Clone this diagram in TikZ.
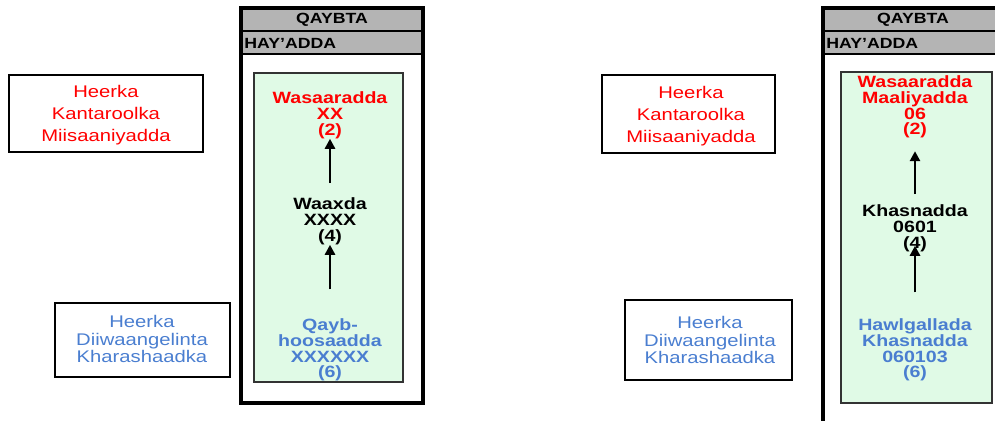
\documentclass[tikz,border=0pt]{standalone}
\usepackage{fontspec}
\setmainfont{Liberation Sans}[FakeStretch=1.2]
\usetikzlibrary{arrows.meta}

\definecolor{boxred}{RGB}{255,0,0}
\definecolor{boxblue}{RGB}{74,126,208}
\definecolor{headgray}{RGB}{180,180,180}
\definecolor{panelgreen}{RGB}{224,250,230}

\begin{document}
\begin{tikzpicture}[x=0.02cm, y=-0.02cm,
		lvl/.style={align=center, inner sep=0pt, font=\fontsize{9.3}{9}\selectfont\bfseries},
		side/.style={align=center, inner sep=0pt, font=\fontsize{9.6}{#1}\selectfont},
		head/.style={inner sep=0pt, font=\fontsize{8.4}{9}\selectfont\bfseries},
		arr/.style={line width=1.7pt, -{Triangle[length=0.2cm, width=0.2cm]}}]
			\useasboundingbox (0, 0) rectangle (995, 421);
			\clip (0, 0) rectangle (995, 421);

			% side boxes
			\draw[line width=0.8pt] (9, 75) rectangle (203, 152);
			\node[side=12.5, text=boxred] (ctrlA) at (106, 115) {Heerka\\Kantaroolka\\Miisaaniyadda};
			\draw[line width=0.8pt] (55, 303) rectangle (230, 377);
			\node[side=10, text=boxblue] (regA) at (142, 339) {Heerka\\Diiwaangelinta\\Kharashaadka};

			\draw[line width=0.8pt] (602, 75) rectangle (775, 153);
			\node[side=12.5, text=boxred] (ctrlB) at (691, 116) {Heerka\\Kantaroolka\\Miisaaniyadda};
			\draw[line width=0.8pt] (625, 300) rectangle (792, 380);
			\node[side=10, text=boxblue] (regB) at (710, 340) {Heerka\\Diiwaangelinta\\Kharashaadka};

			% left panel
			\draw[fill=panelgreen, draw=black!80, line width=0.6pt] (254, 73) rectangle (403, 382);
			\draw[fill=headgray, line width=1.2pt] (241, 8) rectangle (423, 31);
			\draw[fill=headgray, line width=1.2pt] (241, 31) rectangle (423, 54);
			\draw[line width=1.8pt] (241, 8) rectangle (423, 403);
			\node[head] (secA) at (332, 20) {QAYBTA};
			\node[head, anchor=west] (agcA) at (244, 43) {HAY'ADDA};

			\node[lvl, text=boxred] (minA) at (330, 115) {Wasaaradda\\XX\\(2)};
			\node[lvl] (depA) at (330, 221) {Waaxda\\XXXX\\(4)};
			\node[lvl, text=boxblue] (subA) at (330, 350) {Qayb-\\hoosaadda\\XXXXXX\\(6)};
			\draw[arr, shorten <=0.28cm] (depA.north) -- (minA.south);
			\draw[arr, shorten <=0.58cm] (subA.north) -- (depA.south);

			% right panel
			\draw[fill=panelgreen, draw=black!80, line width=0.6pt] (841, 72) rectangle (992, 403);
			\draw[fill=headgray, line width=1.2pt] (823, 8) rectangle (1010, 31);
			\draw[fill=headgray, line width=1.2pt] (823, 31) rectangle (1010, 54);
			\draw[line width=1.8pt] (823, 8) rectangle (1010, 440);
			\node[head] (secB) at (913, 20) {QAYBTA};
			\node[head, anchor=west] (agcB) at (826, 43) {HAY'ADDA};

			\node[lvl, text=boxred] (minB) at (915, 107) {Wasaaradda\\Maaliyadda\\06\\(2)};
			\node[lvl] (depB) at (915, 228) {Khasnadda\\0601\\(4)};
			\node[lvl, text=boxblue] (subB) at (915, 350) {Hawlgallada\\Khasnadda\\060103\\(6)};
			\draw[arr, shorten <=0.2cm, shorten >=0.25cm] (depB.north) -- (minB.south);
			\draw[arr, shorten <=0.52cm, shorten >=-0.12cm] (subB.north) -- (depB.south);
		\end{tikzpicture}
\end{document}
